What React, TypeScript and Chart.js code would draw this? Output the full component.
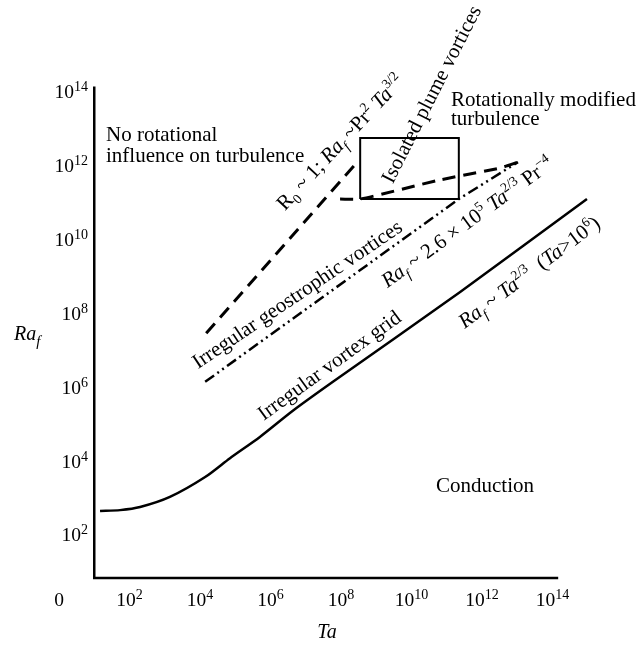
import React, { useEffect, useRef } from "react";
import { Chart, registerables } from "chart.js";

Chart.register(...registerables);

const FONT = '"Liberation Serif", "Times New Roman", Times, serif';

// ---- data (Ta, Ra_f values) ----
const gridTa = [1.46e1, 5.4e1, 2.0e2, 1.4e3, 1.4e4, 7.1e4, 5.0e5, 4.3e6, 5.9e7, 2.4e11, 9.5e14];
const gridRa = [4.45e2, 4.7e2, 5.7e2, 1.07e3, 3.7e3, 1.2e4, 4.5e4, 2.3e5, 1.4e6, 3.8e8, 1.25e11];

const rossbyTa = [1.5e4, 2.8e8];
const rossbyRa = [2.9e7, 1.2e12];

const modifiedTa = [9.4e7, 3.5e8, 6.4e10, 3.2e12, 1.05e13];
const modifiedRa = [1.25e11, 1.25e11, 4.1e11, 8.6e11, 1.25e12];

const geoTa = [1.4e4, 2.2e11, 1.05e13];
const geoRa = [1.4e6, 1.25e11, 1.25e12];

const boxTa = [3.5e8, 2.2e11, 2.2e11, 3.5e8, 3.5e8];
const boxRa = [1.25e11, 1.25e11, 5.6e12, 5.6e12, 1.25e11];

const xTickExps = [0, 2, 4, 6, 8, 10, 12, 14];
const yTickExps = [2, 4, 6, 8, 10, 12, 14];

const X_MIN = 1;
const X_MAX = 1e15;
const Y_MIN = 1;
const Y_MAX = 1e14;
const X_AXIS_FROM = 10;
const X_AXIS_TO = 1.45e14;
const Y_AXIS_FROM = 6.8;
const Y_AXIS_TO = 1.4e14;

type Seg = { t: string; it?: boolean; sup?: boolean; sub?: boolean };

function segFont(s: Seg, size: number, small: number) {
  const sz = s.sup || s.sub ? size * small : size;
  return `${s.it ? "italic " : ""}${sz}px ${FONT}`;
}

function drawRich(
  ctx: CanvasRenderingContext2D,
  x: number,
  y: number,
  angle: number,
  segs: Seg[],
  size: number,
  align: "left" | "center" | "right" = "center",
  small = 0.66,
  supRaise = 0.4,
  subDrop = 0.25
) {
  ctx.save();
  ctx.translate(x, y);
  ctx.rotate((angle * Math.PI) / 180);
  const widths = segs.map((s) => {
    ctx.font = segFont(s, size, small);
    return ctx.measureText(s.t).width;
  });
  const total = widths.reduce((a, b) => a + b, 0);
  let cx = align === "center" ? -total / 2 : align === "right" ? -total : 0;
  const baseY = align === "center" && angle !== 0 ? size * 0.33 : 0;
  ctx.fillStyle = "#000";
  ctx.textAlign = "left";
  ctx.textBaseline = "alphabetic";
  segs.forEach((s, i) => {
    ctx.font = segFont(s, size, small);
    const dy = s.sup ? -size * supRaise : s.sub ? size * subDrop : 0;
    ctx.fillText(s.t, cx, baseY + dy);
    cx += widths[i];
  });
  ctx.restore();
}

const overlayPlugin = {
  id: "regimeOverlay",
  afterDraw(chart: any) {
    const ctx: CanvasRenderingContext2D = chart.ctx;
    const xs = chart.scales.x;
    const ys = chart.scales.y;
    ctx.save();
    // axes
    ctx.strokeStyle = "#000";
    ctx.lineWidth = 2.5;
    ctx.lineCap = "butt";
    ctx.lineJoin = "miter";
    const x0 = xs.getPixelForValue(X_AXIS_FROM);
    const x1 = xs.getPixelForValue(X_AXIS_TO);
    const y0 = ys.getPixelForValue(Y_AXIS_FROM);
    const y1 = ys.getPixelForValue(Y_AXIS_TO);
    ctx.beginPath();
    ctx.moveTo(x0, y1);
    ctx.lineTo(x0, y0);
    ctx.lineTo(x1, y0);
    ctx.stroke();

    // x tick labels
    xTickExps.forEach((e) => {
      const px = xs.getPixelForValue(Math.pow(10, e));
      const segs: Seg[] = e === 0 ? [{ t: "0" }] : [{ t: "10" }, { t: String(e), sup: true }];
      drawRich(ctx, px, y0 + 28, 0, segs, 19.5, "center", 0.72, 0.36);
    });
    // y tick labels
    yTickExps.forEach((e) => {
      const py = ys.getPixelForValue(Math.pow(10, e));
      drawRich(ctx, 88, py + 6.5, 0, [{ t: "10" }, { t: String(e), sup: true }], 19.5, "right", 0.72, 0.36);
    });
    // axis titles
    drawRich(ctx, 14, 340, 0, [{ t: "Ra", it: true }, { t: "f", it: true, sub: true }], 20, "left", 0.75, 0.4, 0.3);
    drawRich(ctx, 327, 638, 0, [{ t: "Ta", it: true }], 20, "center");

    // region labels
    const S = 21;
    drawRich(ctx, 106, 141, 0, [{ t: "No rotational" }], S, "left");
    drawRich(ctx, 106, 162, 0, [{ t: "influence on turbulence" }], S, "left");
    drawRich(ctx, 451, 106, 0, [{ t: "Rotationally modified" }], S, "left");
    drawRich(ctx, 451, 125, 0, [{ t: "turbulence" }], S, "left");
    drawRich(ctx, 436, 492, 0, [{ t: "Conduction" }], S, "left");

    drawRich(
      ctx, 340, 142, -47,
      [
        { t: "R" }, { t: "0", sub: true }, { t: " ~ 1; " },
        { t: "Ra", it: true }, { t: "f", it: true, sub: true }, { t: " ~" },
        { t: "Pr" }, { t: "2", sup: true }, { t: " " },
        { t: "Ta", it: true }, { t: "3/2", sup: true },
      ],
      S, "center", 0.65
    );
    drawRich(ctx, 431, 94, -63, [{ t: "Isolated plume vortices" }], S, "center");
    drawRich(ctx, 297, 294, -34, [{ t: "Irregular geostrophic vortices" }], S, "center");
    drawRich(ctx, 329, 365, -36, [{ t: "Irregular vortex grid" }], S, "center");
    drawRich(
      ctx, 467, 222, -36,
      [
        { t: "Ra", it: true }, { t: "f", it: true, sub: true }, { t: " ~ 2.6 × 10" },
        { t: "5", sup: true }, { t: " " }, { t: "Ta", it: true }, { t: "2/3", sup: true },
        { t: " Pr" }, { t: "−4", sup: true },
      ],
      S, "center", 0.65
    );
    drawRich(
      ctx, 529, 272, -37,
      [
        { t: "Ra", it: true }, { t: "f", it: true, sub: true }, { t: " ~ " },
        { t: "Ta", it: true }, { t: "2/3", sup: true }, { t: "  (" },
        { t: "Ta", it: true }, { t: ">10" }, { t: "6", sup: true }, { t: ")" },
      ],
      S, "center", 0.65
    );
    ctx.restore();
  },
};

function pts(xs: number[], ys: number[]) {
  return xs.map((x, i) => ({ x, y: ys[i] }));
}

export default function App() {
  const ref = useRef<HTMLCanvasElement | null>(null);
  useEffect(() => {
    if (!ref.current) return;
    const base = {
      borderColor: "#000",
      backgroundColor: "#000",
      pointRadius: 0,
      fill: false,
      clip: false as any,
    };
    const chart = new Chart(ref.current, {
      type: "line",
      data: {
        datasets: [
          { ...base, data: pts(gridTa, gridRa), borderWidth: 2.5, tension: 0.25 },
          { ...base, data: pts(rossbyTa, rossbyRa), borderWidth: 3, borderDash: [13, 8] },
          { ...base, data: pts(modifiedTa, modifiedRa), borderWidth: 3, borderDash: [13, 8], tension: 0.2 },
          { ...base, data: pts(geoTa, geoRa), borderWidth: 2.5, borderDash: [11, 4, 2, 4, 2, 4] },
          { ...base, data: pts(boxTa, boxRa), borderWidth: 2 },
        ] as any,
      },
      options: {
        animation: false,
        responsive: false,
        events: [],
        layout: { padding: { left: 59, right: 52.25, top: 91.8, bottom: 36.2 } },
        plugins: { legend: { display: false }, tooltip: { enabled: false } },
        scales: {
          x: { type: "logarithmic", min: X_MIN, max: X_MAX, display: false },
          y: { type: "logarithmic", min: Y_MIN, max: Y_MAX, display: false },
        },
      } as any,
      plugins: [overlayPlugin],
    });
    return () => chart.destroy();
  }, []);
  return (
    <div style={{ position: "absolute", left: 0, top: 0, width: 640, height: 645, background: "#fff" }}>
      <canvas ref={ref} width={640} height={645} style={{ display: "block" }} />
    </div>
  );
}
